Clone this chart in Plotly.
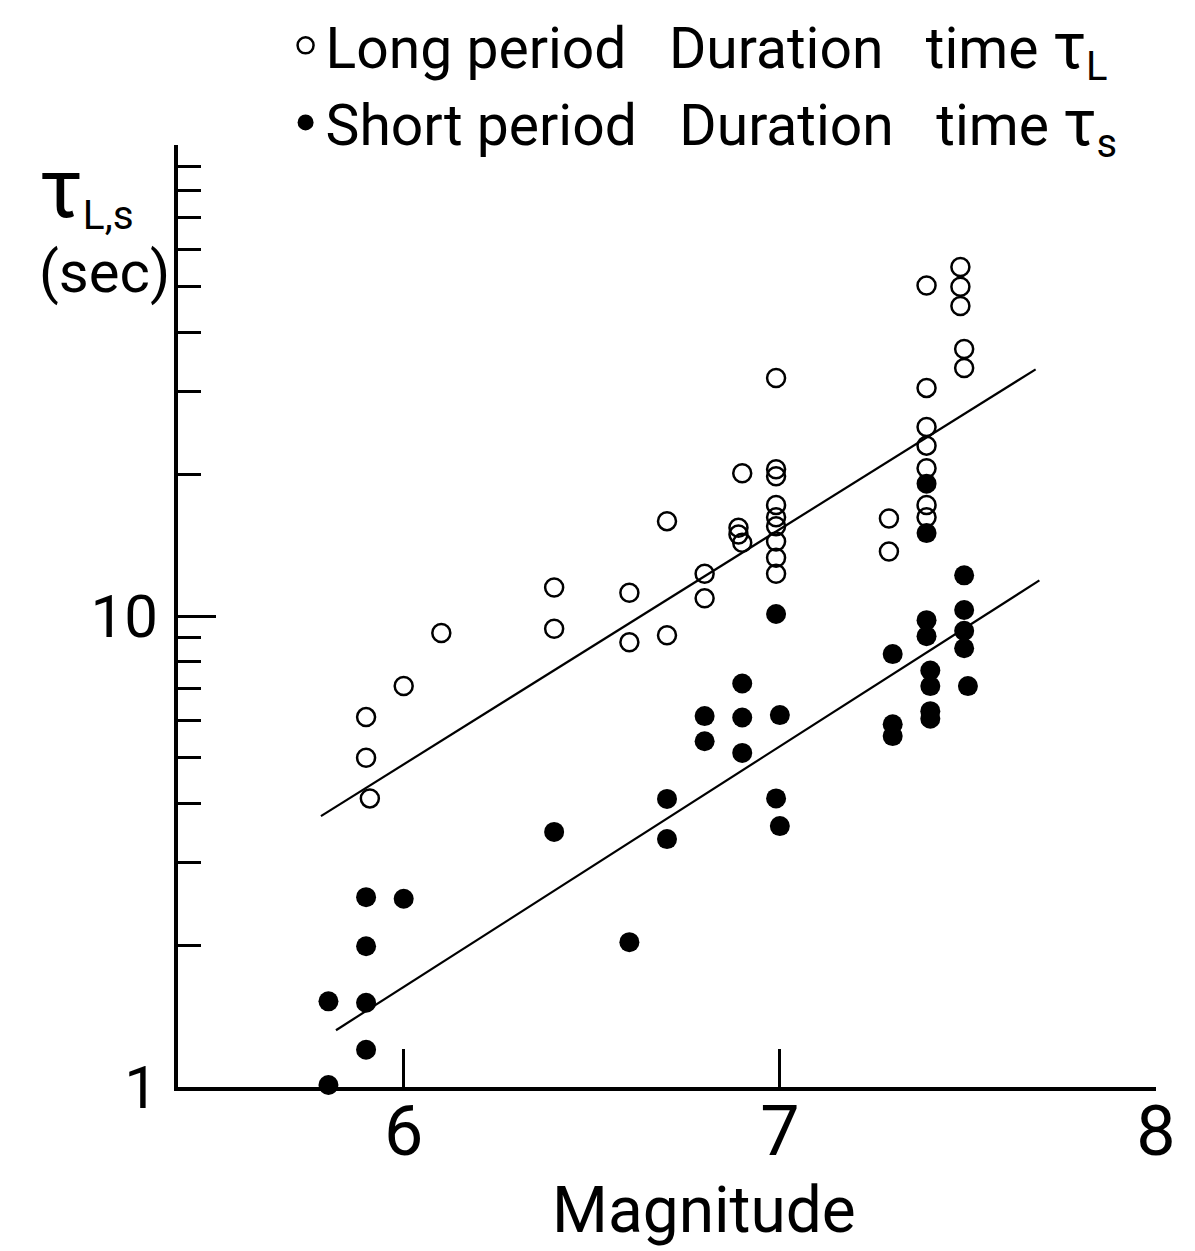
import plotly.graph_objects as go

# ---- data ----
long_mag = [5.90, 5.90, 5.91, 6.00, 6.10, 6.40, 6.40, 6.60, 6.60, 6.70, 6.70, 6.80, 6.80,
            6.90, 6.89, 6.89, 6.90, 6.99, 6.99, 6.99, 6.99, 6.99, 6.99, 6.99, 6.99, 6.99,
            7.29, 7.29, 7.39, 7.39, 7.39, 7.39, 7.39, 7.39, 7.39,
            7.48, 7.48, 7.48, 7.49, 7.49]
long_tau = [6.1, 5.0, 4.1, 7.1, 9.2, 11.5, 9.4, 11.2, 8.8, 15.9, 9.1, 12.3, 10.9,
            20.1, 15.4, 14.9, 14.3, 32.0, 20.5, 19.8, 17.2, 16.2, 15.5, 14.4, 13.3, 12.3,
            16.1, 13.7, 50.3, 30.5, 25.2, 23.0, 20.6, 17.2, 16.2,
            55.1, 50.0, 45.5, 36.9, 33.6]

short_mag = [5.80, 5.80, 5.90, 5.90, 5.90, 5.90, 6.00, 6.40, 6.60, 6.70, 6.70, 6.80, 6.80,
             6.90, 6.90, 6.90, 6.99, 7.00, 6.99, 7.00, 7.30, 7.30, 7.30,
             7.39, 7.39, 7.39, 7.39, 7.40, 7.40, 7.40, 7.40,
             7.49, 7.49, 7.49, 7.49, 7.50]
short_tau = [1.52, 1.01, 2.53, 1.99, 1.51, 1.20, 2.51, 3.48, 2.03, 4.09, 3.36, 6.13, 5.42,
             7.19, 6.09, 5.12, 10.1, 6.16, 4.10, 3.58, 8.3, 5.89, 5.56,
             19.1, 15.0, 9.8, 9.06, 7.66, 7.10, 6.28, 6.05,
             12.2, 10.3, 9.3, 8.54, 7.10]

# regression lines (end points)
long_fit_mag = [5.78, 7.68]
long_fit_tau = [3.76, 33.4]
short_fit_mag = [5.82, 7.69]
short_fit_tau = [1.32, 11.9]

x_ticks = [6, 7, 8]
y_major = [1, 10, 100]
y_major_text = ["1", "10", ""]
y_minor = [2, 3, 4, 5, 6, 7, 8, 9, 20, 30, 40, 50, 60, 70, 80, 90]

SP = "\u00a0\u00a0\u00a0"
TAU = "<span style='font-size:64px'>τ</span>"
long_name = "Long" + "\u00a0" + "period" + SP + "Duration" + SP + "time" + "\u00a0" + TAU + "<sub>L</sub>"
short_name = "Short" + "\u00a0" + "period" + SP + "Duration" + SP + "time" + "\u00a0" + TAU + "<sub>s</sub>"

FONT = "Roboto, DejaVu Sans, sans-serif"

fig = go.Figure()
fig.add_trace(go.Scatter(x=long_fit_mag, y=long_fit_tau, mode="lines",
                         line=dict(color="black", width=2.2), showlegend=False, hoverinfo="skip"))
fig.add_trace(go.Scatter(x=short_fit_mag, y=short_fit_tau, mode="lines",
                         line=dict(color="black", width=2.2), showlegend=False, hoverinfo="skip"))
fig.add_trace(go.Scatter(x=long_mag, y=long_tau, mode="markers", name=long_name,
                         marker=dict(symbol="circle-open", size=18, color="black",
                                     line=dict(width=2.5, color="black")),
                         cliponaxis=False))
fig.add_trace(go.Scatter(x=short_mag, y=short_tau, mode="markers", name=short_name,
                         marker=dict(symbol="circle", size=20, color="black"),
                         cliponaxis=False))

fig.update_layout(
    width=1195, height=1251,
    margin=dict(l=178, r=39, t=145, b=164, autoexpand=False),
    plot_bgcolor="white", paper_bgcolor="white",
    font=dict(family=FONT, color="black"),
    legend=dict(x=0.11, y=1.152, xanchor="left", yanchor="top", font=dict(size=57),
                bgcolor="rgba(0,0,0,0)", borderwidth=0, itemwidth=30),
    xaxis=dict(range=[5.4, 8.0], showline=True, linewidth=4, linecolor="black",
               ticks="inside", ticklen=38, tickwidth=3, tickcolor="black",
               tickvals=x_ticks, tickfont=dict(size=70), ticklabelstandoff=-20,
               showgrid=False, zeroline=False, automargin=False),
    yaxis=dict(type="log", range=[0, 2], showline=True, linewidth=4, linecolor="black",
               ticks="inside", ticklen=38, tickwidth=3, tickcolor="black",
               tickvals=y_major, ticktext=y_major_text, tickfont=dict(size=60),
               ticklabelstandoff=4,
               minor=dict(tickvals=y_minor, ticks="inside", ticklen=23, tickwidth=3,
                          tickcolor="black", showgrid=False),
               showgrid=False, zeroline=False, automargin=False),
    annotations=[
        dict(text="<span style='font-size:84px'>τ</span><sub>L,s</sub><br>(sec)",
             xref="paper", yref="paper", x=0, y=1,
             xanchor="right", yanchor="top", xshift=-6, yshift=8, align="left",
             showarrow=False, font=dict(size=58)),
        dict(text="Magnitude", xref="paper", yref="paper", x=0.538, y=0,
             xanchor="center", yanchor="top", yshift=-84,
             showarrow=False, font=dict(size=64)),
    ],
)

fig.write_html("out.html")
